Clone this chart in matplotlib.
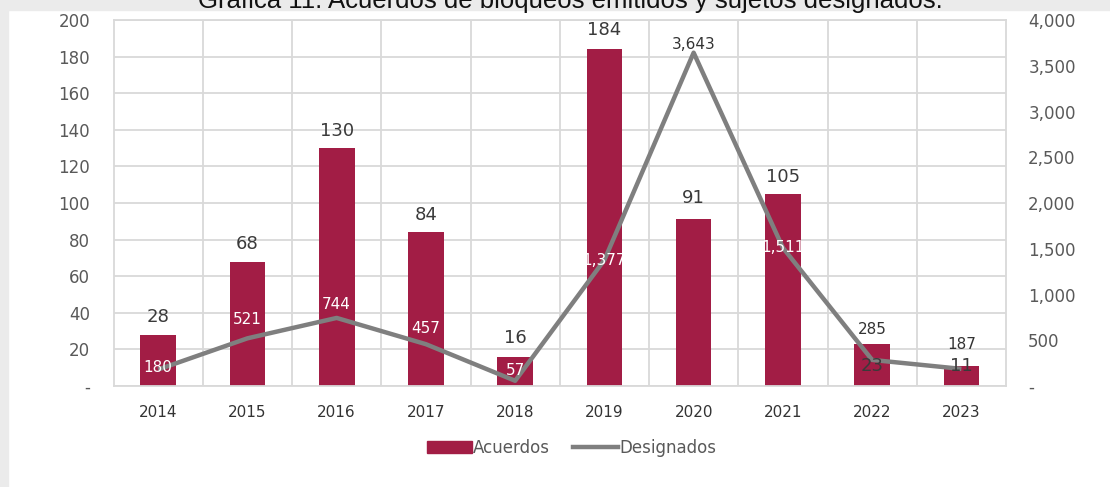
import matplotlib.pyplot as plt
from matplotlib.patches import Rectangle
from matplotlib.lines import Line2D
from matplotlib.ticker import FuncFormatter

# data
years = ['2014', '2015', '2016', '2017', '2018', '2019', '2020', '2021', '2022', '2023']
acuerdos = [28, 68, 130, 84, 16, 184, 91, 105, 23, 11]
designados = [180, 521, 744, 457, 57, 1377, 3643, 1511, 285, 187]

# label placement (pixels, negative = up)
bar_lbl_dy = [-18, -18, -17, -17, -19, -19, -21, -17, 22, 0]
line_lbl_dy = [-2, -19, -13, -16, -10, 0, -8, 0, -30, -24]
line_lbl_col = ['white'] * 6 + ['#333333', 'white', '#333333', '#333333']

crimson = '#A21D45'
gray = '#7F7F7F'
txt = '#595959'
fam = 'DejaVu Sans'

fig = plt.figure(figsize=(11.1, 4.87), dpi=100)
fig.patch.set_facecolor('white')
# grey page border
fig.patches.append(Rectangle((0, 0), 8 / 1110, 1, transform=fig.transFigure, color='#EBEBEB', zorder=0))
fig.patches.append(Rectangle((0, 1 - 10 / 487), 1, 10 / 487, transform=fig.transFigure, color='#EBEBEB', zorder=0))
fig.text(0.514, 1 - 8 / 487, 'Gráfica 11. Acuerdos de bloqueos emitidos y sujetos designados.',
         ha='center', va='baseline', fontsize=18.5, color='#111111', family='Liberation Sans')

ax = fig.add_axes([0.1023, 0.2074, 0.804, 0.7515])
x = list(range(len(years)))
ax.bar(x, acuerdos, width=0.4, color=crimson, zorder=2)
ax.set_xlim(-0.5, len(years) - 0.5)
ax.set_ylim(0, 200)
ax.set_yticks(range(0, 201, 20))
ax.yaxis.set_major_formatter(FuncFormatter(lambda v, p: '-' if v == 0 else f'{int(v)}'))
ax.set_xticks(x)
ax.set_xticklabels(years)
ax.set_xticks([i + 0.5 for i in x[:-1]], minor=True)
ax.grid(axis='y', color='#D9D9D9', lw=1.3, zorder=0)
ax.grid(axis='x', which='minor', color='#D9D9D9', lw=1.3, zorder=0)
ax.tick_params(axis='both', which='both', length=0)
ax.tick_params(axis='y', labelsize=12, labelcolor=txt, pad=17)
ax.tick_params(axis='x', labelsize=11, labelcolor='#333333', pad=14)
for s in ax.spines.values():
    s.set_color('#D9D9D9')
    s.set_linewidth(1.3)
for lab in ax.get_yticklabels() + ax.get_xticklabels():
    lab.set_family(fam)

ax2 = ax.twinx()
ax2.plot(x, designados, color=gray, lw=3.2, solid_capstyle='butt', zorder=3)
ax2.set_ylim(0, 4000)
ax2.set_yticks(range(0, 4001, 500))
ax2.yaxis.set_major_formatter(FuncFormatter(lambda v, p: '-' if v == 0 else f'{int(v):,}'))
ax2.tick_params(axis='y', length=0, labelsize=12, labelcolor=txt, pad=16)
for lab in ax2.get_yticklabels():
    lab.set_family(fam)
for s in ax2.spines.values():
    s.set_visible(False)

for i in x:
    ax2.annotate(str(acuerdos[i]), (i, acuerdos[i] * 20), xytext=(0, -bar_lbl_dy[i] * 0.72),
                 textcoords='offset points', ha='center', va='center', fontsize=13,
                 color='#3A3A3A', family=fam, zorder=5)
    ax2.annotate(f'{designados[i]:,}', (i, designados[i]), xytext=(0, -line_lbl_dy[i] * 0.72),
                 textcoords='offset points', ha='center', va='center', fontsize=11,
                 color=line_lbl_col[i], family=fam, zorder=5)

handles = [Rectangle((0, 0), 1, 1, color=crimson),
           Line2D([], [], color=gray, lw=3.2)]
leg = fig.legend(handles, ['Acuerdos', 'Designados'], loc='center', bbox_to_anchor=(0.515, 0.08),
                 ncol=2, frameon=False, handlelength=2.7, handleheight=0.7,
                 columnspacing=1.4, handletextpad=0.05, labelcolor=txt, prop={'family': fam, 'size': 12})

fig.savefig('out.png', dpi=100, facecolor=fig.get_facecolor())
